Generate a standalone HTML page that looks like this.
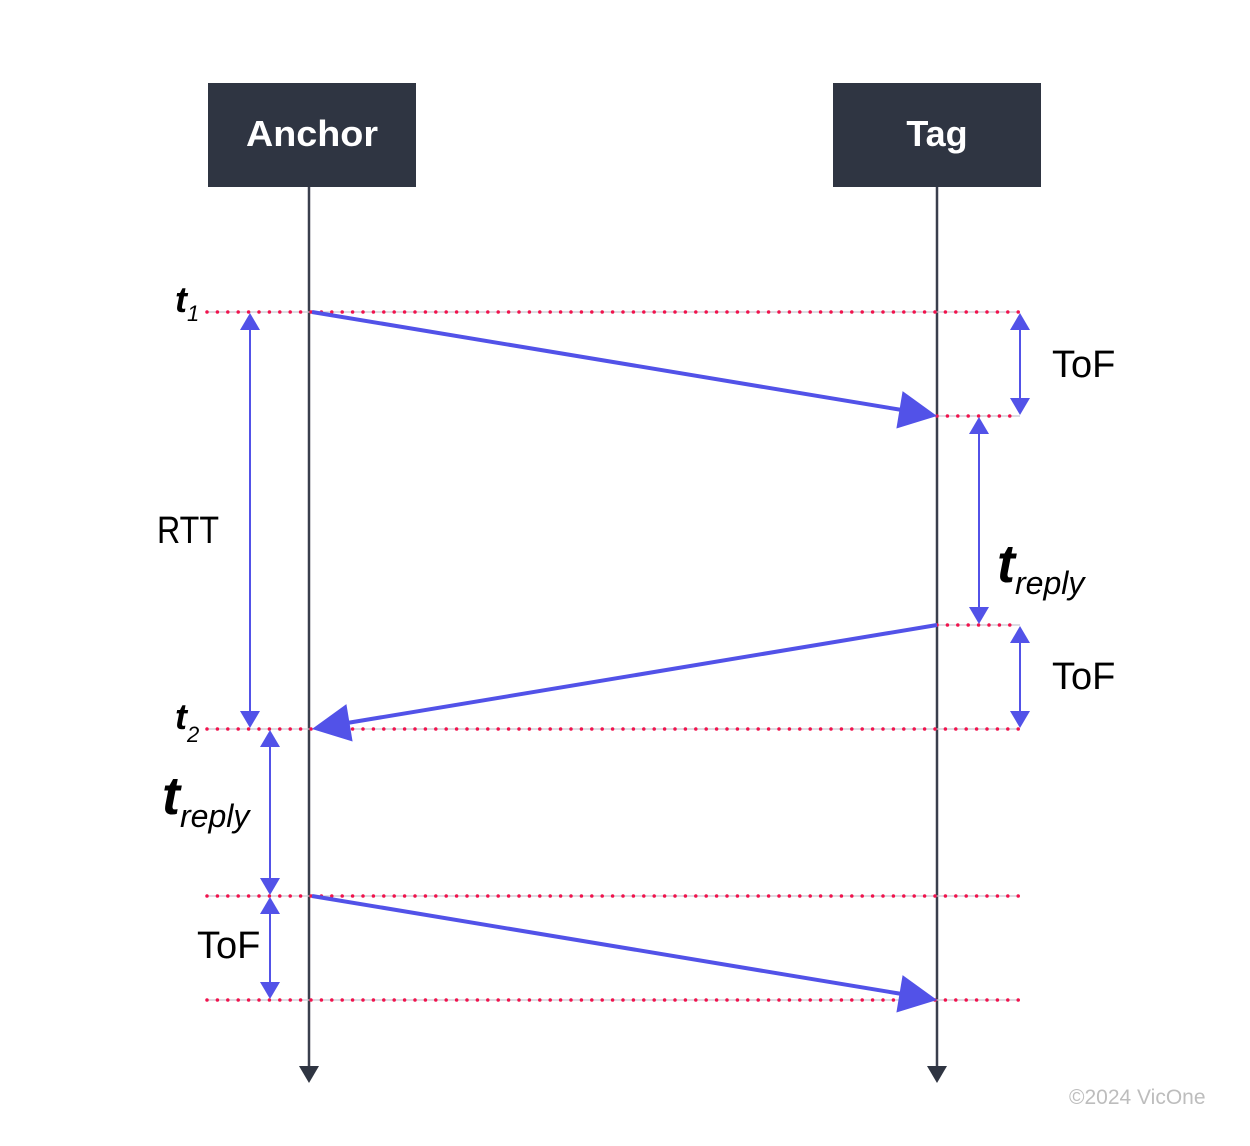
<!DOCTYPE html>
<html><head><meta charset="utf-8"><style>html,body{margin:0;padding:0;background:#fff}svg{display:block}</style></head>
<body>
<svg width="1250" height="1146" viewBox="0 0 1250 1146" xmlns="http://www.w3.org/2000/svg" font-family="'Liberation Sans', sans-serif">
<!-- lifelines -->
<line x1="309" y1="187" x2="309" y2="1068" stroke="#3a3f4d" stroke-width="2.5"/>
<polygon points="299,1066 319,1066 309,1083" fill="#2f3542"/>
<line x1="937" y1="187" x2="937" y2="1068" stroke="#3a3f4d" stroke-width="2.5"/>
<polygon points="927,1066 947,1066 937,1083" fill="#2f3542"/>
<!-- boxes -->
<rect x="208" y="83" width="208" height="104" fill="#2f3542"/>
<rect x="833" y="83" width="208" height="104" fill="#2f3542"/>
<text x="312" y="146" font-size="36" font-weight="bold" fill="#fff" text-anchor="middle" textLength="132" lengthAdjust="spacingAndGlyphs">Anchor</text>
<text x="937" y="146" font-size="36" font-weight="bold" fill="#fff" text-anchor="middle">Tag</text>
<!-- dotted lines -->
<g stroke="#c8c8d0" stroke-width="1.2">
<line x1="206" y1="312" x2="1020" y2="312"/>
<line x1="937" y1="416" x2="1020" y2="416"/>
<line x1="937" y1="625" x2="1020" y2="625"/>
<line x1="206" y1="729" x2="1020" y2="729"/>
<line x1="206" y1="896" x2="1020" y2="896"/>
<line x1="206" y1="1000" x2="1020" y2="1000"/>
</g>
<g stroke="#f0134d" stroke-width="3.5" stroke-linecap="round" stroke-dasharray="0 10.4">
<line x1="207" y1="312" x2="1020" y2="312"/>
<line x1="937" y1="416" x2="1020" y2="416"/>
<line x1="937" y1="625" x2="1020" y2="625"/>
<line x1="207" y1="729" x2="1020" y2="729"/>
<line x1="207" y1="896" x2="1020" y2="896"/>
<line x1="207" y1="1000" x2="1020" y2="1000"/>
</g>
<!-- messages -->
<g stroke="#5252e8" stroke-width="4">
<line x1="312" y1="312" x2="902" y2="410"/>
<line x1="937" y1="625" x2="347" y2="723"/>
<line x1="312" y1="896" x2="902" y2="994"/>
</g>
<g fill="#5252e8">
<polygon points="937,416 902.6,391.1 896.4,428.5"/>
<polygon points="312,729 352.6,741.5 346.4,704.1"/>
<polygon points="937,1000 902.6,975.1 896.4,1012.5"/>
</g>
<!-- dimension arrows -->
<g stroke="#5252e8" stroke-width="2">
<line x1="250" y1="325" x2="250" y2="716"/>
<line x1="1020" y1="325" x2="1020" y2="403"/>
<line x1="979" y1="429" x2="979" y2="612"/>
<line x1="1020" y1="638" x2="1020" y2="716"/>
<line x1="270" y1="742" x2="270" y2="883"/>
<line x1="270" y1="909" x2="270" y2="987"/>
</g>
<g fill="#5252e8">
<polygon points="250,313 240,330 260,330"/><polygon points="250,728 240,711 260,711"/>
<polygon points="1020,313 1010,330 1030,330"/><polygon points="1020,415 1010,398 1030,398"/>
<polygon points="979,417 969,434 989,434"/><polygon points="979,624 969,607 989,607"/>
<polygon points="1020,626 1010,643 1030,643"/><polygon points="1020,728 1010,711 1030,711"/>
<polygon points="270,730 260,747 280,747"/><polygon points="270,895 260,878 280,878"/>
<polygon points="270,897 260,914 280,914"/><polygon points="270,999 260,982 280,982"/>
</g>
<!-- labels -->
<g fill="#000">
<text x="175" y="312" font-size="36" font-weight="bold" font-style="italic">t<tspan font-size="22" font-weight="normal" dy="9">1</tspan></text>
<text x="175" y="729" font-size="36" font-weight="bold" font-style="italic">t<tspan font-size="22" font-weight="normal" dy="13">2</tspan></text>
<text x="157" y="543" font-size="38" textLength="62" lengthAdjust="spacingAndGlyphs">RTT</text>
<text x="1052" y="377" font-size="38">ToF</text>
<text x="1052" y="689" font-size="38">ToF</text>
<text x="197" y="958" font-size="38">ToF</text>
<text x="997" y="582" font-size="54" font-weight="bold" font-style="italic">t<tspan font-size="32" font-weight="normal" dy="12">reply</tspan></text>
<text x="162" y="814" font-size="54" font-weight="bold" font-style="italic">t<tspan font-size="32" font-weight="normal" dy="13">reply</tspan></text>
</g>
<text x="1069" y="1104" font-size="21" fill="#bdbdbd">©2024 VicOne</text>
</svg>
</body></html>
